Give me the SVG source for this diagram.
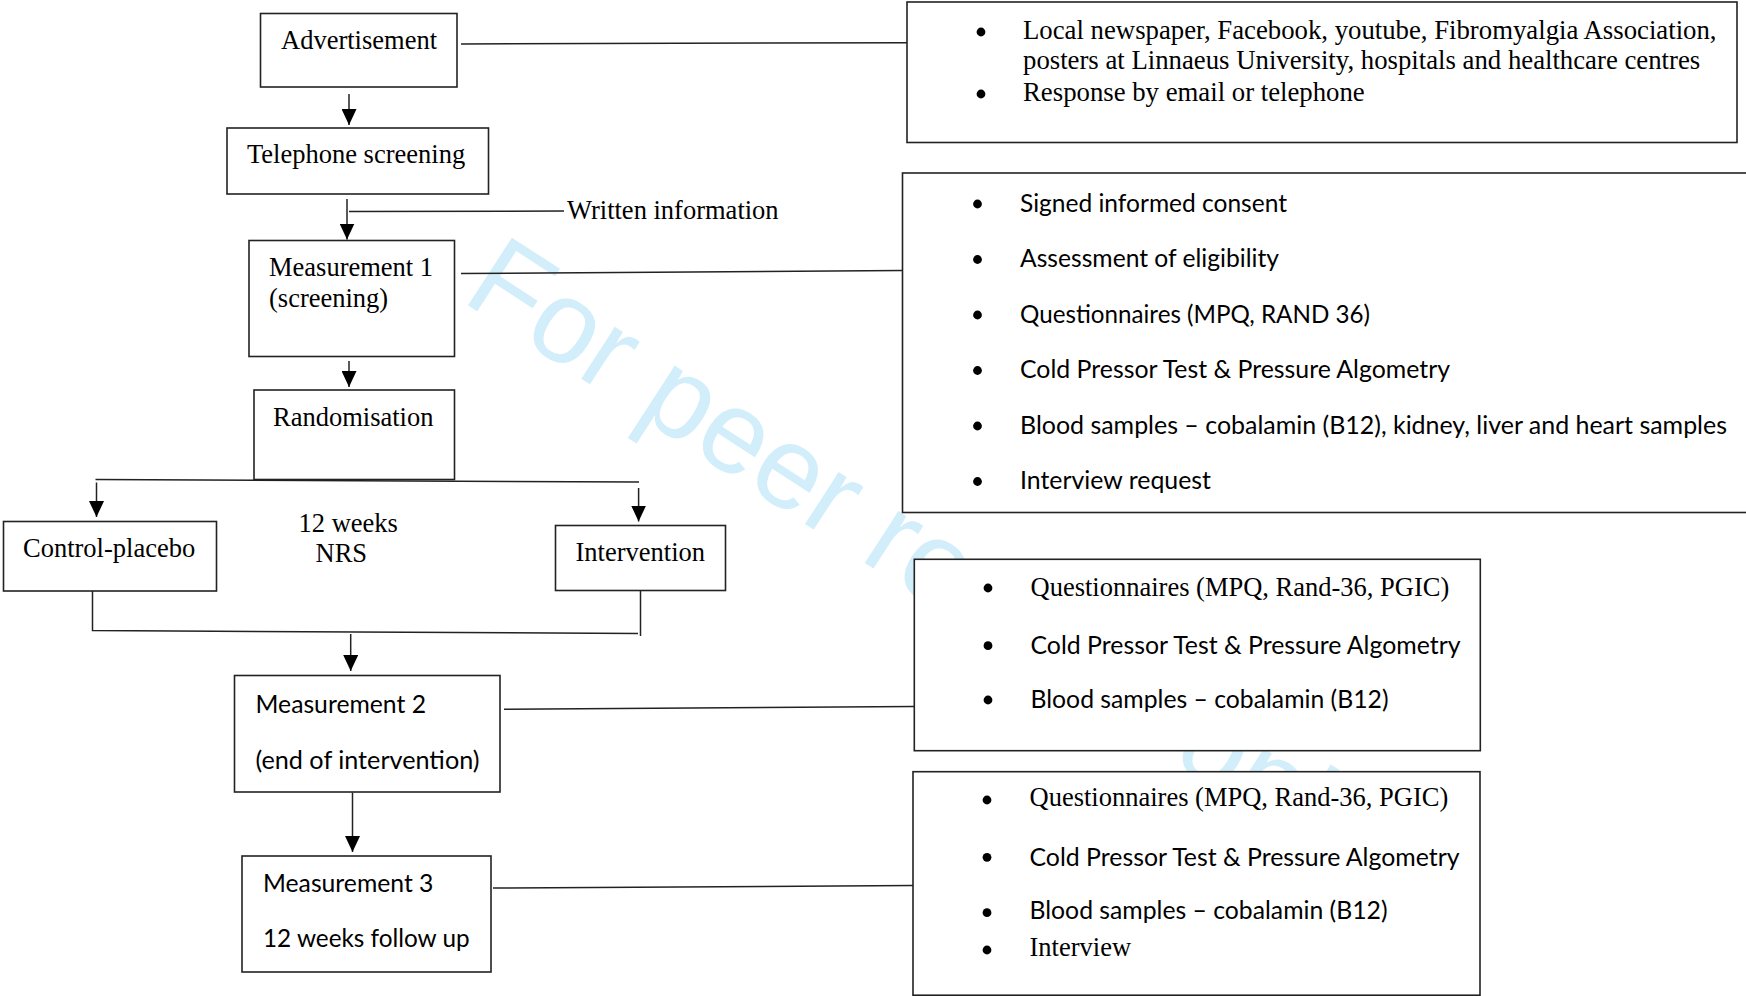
<svg xmlns="http://www.w3.org/2000/svg" width="1746" height="996" viewBox="0 0 1746 996">
<defs>
<style>
.box{fill:#fff;stroke:#222;stroke-width:1.6}
.ln{fill:none;stroke:#222;stroke-width:1.5}
.serif{font-family:"Liberation Serif","Times New Roman",serif;font-size:26.5px;fill:#000}
.sans{font-family:Lato,"Open Sans",sans-serif;font-size:24.5px;fill:#000}
.wm{font-family:"Liberation Sans",Arial,sans-serif;font-size:117px;fill:#d2eefb}
.dot{fill:#000}
</style>
<marker id="ah" markerUnits="userSpaceOnUse" markerWidth="16" markerHeight="15" refX="16" refY="7.5" orient="auto"><path d="M0,0 L16,7.5 L0,15 Z" fill="#000"/></marker>
</defs>
<rect x="0" y="0" width="1746" height="996" fill="#fff"/>
<g id="watermark">
<text class="wm" x="460" y="300" transform="rotate(33 460 300)">For peer review only</text>
</g>
<g id="connectors">
<path class="ln" d="M461,44 L907,42.7"/>
<path class="ln" d="M349,94 L349,125" marker-end="url(#ah)"/>
<path class="ln" d="M347,199 L347,239.5" marker-end="url(#ah)"/>
<path class="ln" d="M349,211.5 L564,211"/>
<path class="ln" d="M461,273.5 L902,270.5"/>
<path class="ln" d="M349,361 L349,387" marker-end="url(#ah)"/>
<path class="ln" d="M95.5,479.5 L639,482"/>
<path class="ln" d="M96.5,482.5 L96.5,517" marker-end="url(#ah)"/>
<path class="ln" d="M638.6,488 L638.6,521.5" marker-end="url(#ah)"/>
<path class="ln" d="M92.5,590.5 L92.5,630.5 L638,633.5"/>
<path class="ln" d="M640.5,590.5 L640.5,636"/>
<path class="ln" d="M350.7,634 L350.7,671" marker-end="url(#ah)"/>
<path class="ln" d="M504,709.3 L914,706.5"/>
<path class="ln" d="M352.5,792.5 L352.5,852" marker-end="url(#ah)"/>
<path class="ln" d="M493,888 L913,885.5"/>
</g>
<g id="advertisement">
<rect class="box" x="260.5" y="13.5" width="196.5" height="73.5"/>
<text class="serif" x="281" y="49">Advertisement</text>
</g>
<g id="telephone-screening">
<rect class="box" x="227" y="128" width="261.5" height="66"/>
<text class="serif" x="247" y="163">Telephone screening</text>
</g>
<g id="written-information">
<text class="serif" x="567" y="218.5">Written information</text>
</g>
<g id="measurement-1">
<rect class="box" x="249" y="240.5" width="205.5" height="116"/>
<text class="serif" x="269" y="276">Measurement 1</text>
<text class="serif" x="269" y="306.5">(screening)</text>
</g>
<g id="randomisation">
<rect class="box" x="254" y="390" width="200.5" height="89.5"/>
<text class="serif" x="273" y="425.5">Randomisation</text>
</g>
<g id="control-placebo">
<rect class="box" x="3.5" y="521.5" width="213" height="69.5"/>
<text class="serif" x="23" y="557">Control-placebo</text>
</g>
<g id="weeks-nrs">
<text class="serif" x="298.5" y="531.5">12 weeks</text>
<text class="serif" x="315.5" y="562">NRS</text>
</g>
<g id="intervention">
<rect class="box" x="555.5" y="525.5" width="170" height="65"/>
<text class="serif" x="575.5" y="560.5">Intervention</text>
</g>
<g id="measurement-2">
<rect class="box" x="234.5" y="675.5" width="265.5" height="116.5"/>
<text class="sans" x="255.5" y="712.5" textLength="170.5" lengthAdjust="spacingAndGlyphs">Measurement 2</text>
<text class="sans" x="255.5" y="768.5" textLength="224" lengthAdjust="spacingAndGlyphs">(end of intervention)</text>
</g>
<g id="measurement-3">
<rect class="box" x="242" y="856" width="249" height="116"/>
<text class="sans" x="263" y="891.5" textLength="170.4" lengthAdjust="spacingAndGlyphs">Measurement 3</text>
<text class="sans" x="263" y="947" textLength="206.6" lengthAdjust="spacingAndGlyphs">12 weeks follow up</text>
</g>
<g id="recruitment-details">
<rect class="box" x="907" y="2" width="830" height="140.5"/>
<circle class="dot" cx="981" cy="32" r="4.4"/>
<circle class="dot" cx="981" cy="94" r="4.4"/>
<text class="serif" x="1023" y="38.5" style="font-size:26.75px">Local newspaper, Facebook, youtube, Fibromyalgia Association,</text>
<text class="serif" x="1023" y="69" style="font-size:26.75px">posters at Linnaeus University, hospitals and healthcare centres</text>
<text class="serif" x="1023" y="100.5" style="font-size:26.75px">Response by email or telephone</text>
</g>
<g id="measurement-1-details">
<rect class="box" x="902.5" y="173" width="900" height="339.5"/>
<circle class="dot" cx="977.5" cy="204" r="4.4"/>
<circle class="dot" cx="977.5" cy="259.5" r="4.4"/>
<circle class="dot" cx="977.5" cy="315" r="4.4"/>
<circle class="dot" cx="977.5" cy="370.5" r="4.4"/>
<circle class="dot" cx="977.5" cy="426" r="4.4"/>
<circle class="dot" cx="977.5" cy="481.5" r="4.4"/>
<text class="sans" x="1020" y="211.5" textLength="267" lengthAdjust="spacingAndGlyphs">Signed informed consent</text>
<text class="sans" x="1020" y="267" textLength="259" lengthAdjust="spacingAndGlyphs">Assessment of eligibility</text>
<text class="sans" x="1020" y="322.5" textLength="350" lengthAdjust="spacingAndGlyphs">Questionnaires (MPQ, RAND 36)</text>
<text class="sans" x="1020" y="378" textLength="430" lengthAdjust="spacingAndGlyphs">Cold Pressor Test &amp; Pressure Algometry</text>
<text class="sans" x="1020" y="433.5" textLength="707" lengthAdjust="spacingAndGlyphs">Blood samples – cobalamin (B12), kidney, liver and heart samples</text>
<text class="sans" x="1020" y="489" textLength="191" lengthAdjust="spacingAndGlyphs">Interview request</text>
</g>
<g id="measurement-2-details">
<rect class="box" x="914.3" y="559.3" width="566" height="191.4"/>
<circle class="dot" cx="988" cy="588" r="4.4"/>
<circle class="dot" cx="988" cy="645.7" r="4.4"/>
<circle class="dot" cx="988" cy="700" r="4.4"/>
<text class="serif" x="1030.5" y="596">Questionnaires (MPQ, Rand-36, PGIC)</text>
<text class="sans" x="1030.5" y="653.5" textLength="430" lengthAdjust="spacingAndGlyphs">Cold Pressor Test &amp; Pressure Algometry</text>
<text class="sans" x="1030.5" y="708" textLength="358" lengthAdjust="spacingAndGlyphs">Blood samples – cobalamin (B12)</text>
</g>
<g id="measurement-3-details">
<rect class="box" x="913" y="771.7" width="567" height="223.5"/>
<circle class="dot" cx="987" cy="800" r="4.4"/>
<circle class="dot" cx="987" cy="857.3" r="4.4"/>
<circle class="dot" cx="987" cy="912.7" r="4.4"/>
<circle class="dot" cx="987" cy="950" r="4.4"/>
<text class="serif" x="1029.5" y="806">Questionnaires (MPQ, Rand-36, PGIC)</text>
<text class="sans" x="1029.5" y="865.5" textLength="430" lengthAdjust="spacingAndGlyphs">Cold Pressor Test &amp; Pressure Algometry</text>
<text class="sans" x="1029.5" y="919" textLength="358" lengthAdjust="spacingAndGlyphs">Blood samples – cobalamin (B12)</text>
<text class="serif" x="1029.5" y="955.5">Interview</text>
</g>
</svg>
